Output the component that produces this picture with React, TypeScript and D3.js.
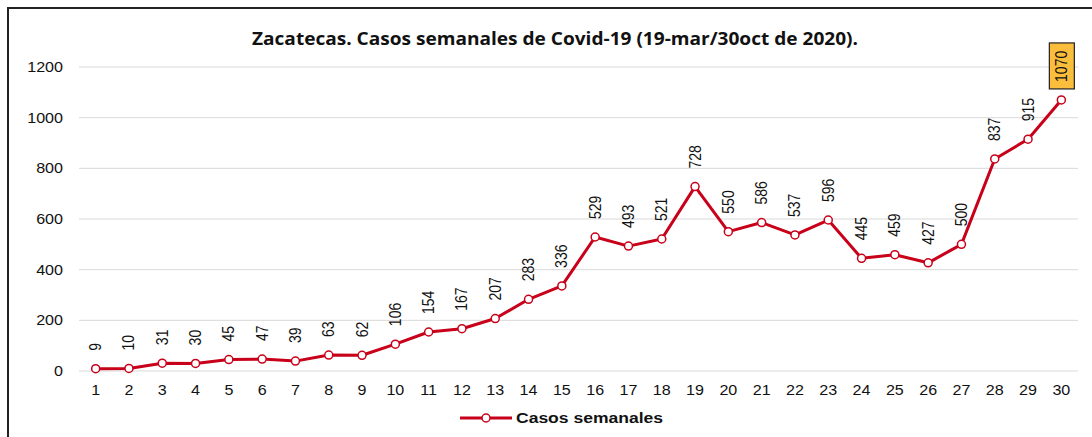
import React, { useEffect, useRef } from "react"
import * as d3 from "d3"

// weekly cases, Zacatecas (week 1..30)
const weeks = d3.range(1, 31).map(String)
const casos = [9, 10, 31, 30, 45, 47, 39, 63, 62, 106, 154, 167, 207, 283, 336, 529, 493, 521, 728, 550, 586, 537, 596, 445, 459, 427, 500, 837, 915, 1070]
const yTicks = [0, 200, 400, 600, 800, 1000, 1200]

const title = "Zacatecas. Casos semanales de Covid-19 (19-mar/30oct de 2020)."
const seriesName = "Casos semanales"

const W = 1092
const H = 437
const RED = "#c8001a"
const FONT = "'Liberation Sans', Arial, sans-serif"

const drawChart = (wrapper: SVGSVGElement) => {
  const svg = d3.select(wrapper)
  svg.selectAll("*").remove()

  const left = 79
  const right = 1078
  const top = 67
  const bottom = 371

  const x = d3.scaleBand().domain(weeks).range([left, right]).padding(0)
  const y = d3.scaleLinear().domain([0, 1200]).range([bottom, top])
  const cx = (i: number) => (x(weeks[i]) as number) + x.bandwidth() / 2

  // frame (only top + left visible in the picture)
  svg.append("rect").attr("x", 8).attr("y", 8).attr("width", W + 20).attr("height", H + 20)
    .attr("fill", "white").attr("stroke", "#222").attr("stroke-width", 2)

  svg.append("text")
    .attr("x", 252).attr("y", 45)
    .attr("textLength", 606)
    .attr("lengthAdjust", "spacingAndGlyphs")
    .style("font-family", "'Open Sans', sans-serif")
    .style("font-weight", "bold")
    .style("font-size", "18px")
    .attr("fill", "#111")
    .text(title)

  // grid + y labels
  svg.append("g").selectAll("line").data(yTicks).enter().append("line")
    .attr("x1", left).attr("x2", right)
    .attr("y1", d => y(d)).attr("y2", d => y(d))
    .attr("stroke", "#d9d9d9").attr("stroke-width", 1)

  svg.append("g").selectAll("text").data(yTicks).enter().append("text")
    .attr("transform", d => `translate(63,${y(d) + 5}) scale(1.15,1)`)
    .attr("text-anchor", "end")
    .style("font-family", FONT)
    .style("font-size", "14px")
    .attr("fill", "#111")
    .text(d => d)

  // x labels
  svg.append("g").selectAll("text").data(weeks).enter().append("text")
    .attr("transform", (d, i) => `translate(${cx(i)},395) scale(1.15,1)`)
    .attr("text-anchor", "middle")
    .style("font-family", FONT)
    .style("font-size", "14px")
    .attr("fill", "#111")
    .text(d => d)

  const line = d3.line<number>().x((d, i) => cx(i)).y(d => y(d))
  svg.append("path").datum(casos)
    .attr("d", line)
    .attr("fill", "none").attr("stroke", RED).attr("stroke-width", 3)
    .attr("stroke-linejoin", "round")

  svg.append("g").selectAll("circle").data(casos).enter().append("circle")
    .attr("cx", (d, i) => cx(i)).attr("cy", d => y(d)).attr("r", 4)
    .attr("fill", "white").attr("stroke", RED).attr("stroke-width", 1.5)

  // rotated value labels
  const last = casos.length - 1
  const labels = svg.append("g")
  casos.forEach((d, i) => {
    const px = cx(i) + 5.5
    const py = y(d) - 18
    if (i === last) {
      labels.append("rect")
        .attr("x", cx(i) - 12).attr("y", y(d) - 57).attr("width", 25).attr("height", 46)
        .attr("fill", "#fbbd3c").attr("stroke", "#222").attr("stroke-width", 1.2)
    }
    labels.append("text")
      .attr("transform", `translate(${px},${py}) rotate(-90) scale(1,1.15)`)
      .style("font-family", FONT)
      .style("font-size", "14px")
      .attr("fill", "#111")
      .text(d)
  })

  // legend
  const lg = svg.append("g")
  lg.append("line").attr("x1", 460).attr("x2", 512).attr("y1", 418).attr("y2", 418)
    .attr("stroke", RED).attr("stroke-width", 3)
  lg.append("circle").attr("cx", 486).attr("cy", 418).attr("r", 4)
    .attr("fill", "white").attr("stroke", RED).attr("stroke-width", 1.5)
  lg.append("text").attr("x", 516).attr("y", 423)
    .attr("textLength", 147)
    .attr("lengthAdjust", "spacingAndGlyphs")
    .style("font-family", FONT)
    .style("font-weight", "bold")
    .style("font-size", "14.5px")
    .attr("fill", "#111")
    .text(seriesName)
}

export default function App() {
  const ref = useRef<SVGSVGElement>(null)
  useEffect(() => {
    if (ref.current) drawChart(ref.current)
  }, [])
  return (
    <svg ref={ref} width={W} height={H}
      style={{ position: "absolute", left: 0, top: 0, background: "white" }} />
  )
}
